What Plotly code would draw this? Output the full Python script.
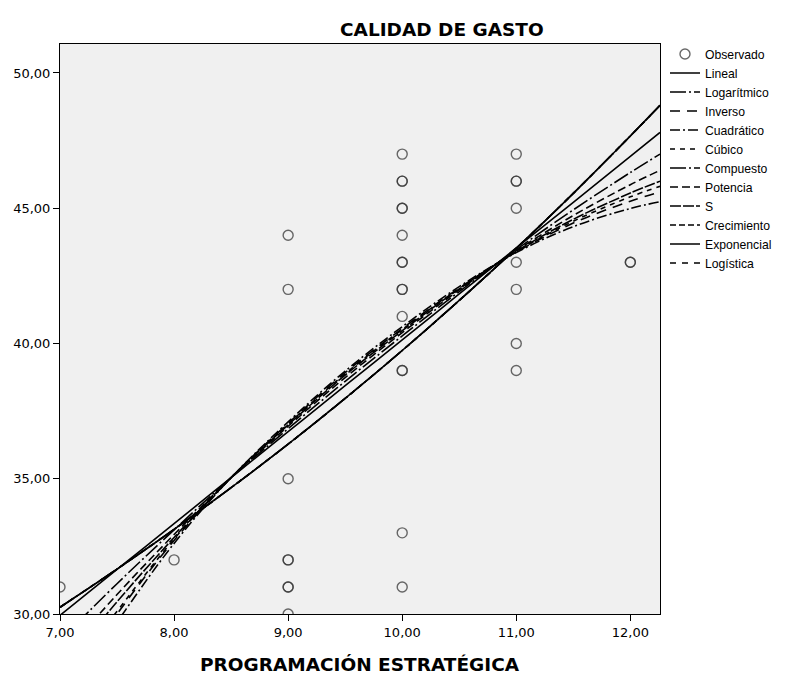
import plotly.graph_objects as go

# Observed points (duplicates listed twice where the circle looks bold)
obs_x = [7, 8,
         9, 9, 9, 9, 9, 9, 9, 9,
         10, 10, 10, 10, 10, 10, 10, 10, 10, 10, 10, 10, 10, 10, 10,
         11, 11, 11, 11, 11, 11, 11, 11,
         12, 12]
obs_y = [31, 32,
         44, 42, 35, 32, 32, 31, 31, 30,
         47, 46, 46, 45, 45, 44, 43, 43, 42, 42, 41, 39, 39, 33, 31,
         47, 46, 46, 45, 43, 42, 40, 39,
         43, 43]

# Fitted curves at these x positions
curve_x = [7.0, 7.5, 8.0, 8.5, 9.0, 9.5, 10.0, 10.5, 11.0, 11.5, 12.0, 12.26]
lineal      = [29.95, 31.65, 33.34, 35.04, 36.74, 38.44, 40.13, 41.83, 43.53, 45.22, 46.92, 47.80]
logaritmico = [29.03, 31.12, 33.11, 35.04, 36.85, 38.60, 40.28, 41.92, 43.47, 44.94, 46.32, 47.00]
inverso     = [27.00, 30.00, 32.72, 35.04, 37.05, 38.92, 40.55, 42.05, 43.38, 44.45, 45.26, 45.60]
cuadratico  = [26.60, 29.70, 32.61, 35.04, 37.10, 38.98, 40.62, 42.10, 43.36, 44.32, 44.99, 45.24]
cubico      = [27.30, 30.10, 32.77, 35.04, 37.02, 38.88, 40.52, 42.03, 43.39, 44.52, 45.42, 45.81]
compuesto   = [30.25, 31.66, 33.13, 34.67, 36.28, 37.97, 39.74, 41.59, 43.52, 45.55, 47.67, 48.80]
potencia    = [28.35, 30.72, 32.94, 35.04, 36.94, 38.74, 40.40, 41.98, 43.43, 44.73, 45.87, 46.40]
s_curva     = [27.89, 30.45, 32.83, 35.04, 36.99, 38.83, 40.47, 42.02, 43.41, 44.59, 45.56, 46.00]
crecimiento = [30.25, 31.66, 33.13, 34.67, 36.28, 37.97, 39.74, 41.59, 43.52, 45.55, 47.67, 48.80]
exponencial = [30.25, 31.66, 33.13, 34.67, 36.28, 37.97, 39.74, 41.59, 43.52, 45.55, 47.67, 48.80]
logistica   = [30.25, 31.66, 33.13, 34.67, 36.28, 37.97, 39.74, 41.59, 43.52, 45.55, 47.67, 48.80]

x_ticks = [7, 8, 9, 10, 11, 12]
x_tick_labels = ["7,00", "8,00", "9,00", "10,00", "11,00", "12,00"]
y_ticks = [30, 35, 40, 45, 50]
y_tick_labels = ["30,00", "35,00", "40,00", "45,00", "50,00"]

FONT = "DejaVu Sans, Liberation Sans, Arial, sans-serif"
LEGEND_FONT = "Liberation Sans, Arial, sans-serif"

fig = go.Figure()
fig.add_trace(go.Scatter(
    x=obs_x, y=obs_y, mode="markers", name="Observado",
    marker=dict(symbol="circle-open", size=10, color="rgba(55,55,55,0.75)",
                line=dict(width=1.4)),
))

curves = [
    ("Lineal", lineal, "solid"),
    ("Logarítmico", logaritmico, "16px,3px,2px,3px"),
    ("Inverso", inverso, "10px,7px"),
    ("Cuadrático", cuadratico, "10px,3px,2px,3px"),
    ("Cúbico", cubico, "5px,5px"),
    ("Compuesto", compuesto, "16px,3px,2px,3px"),
    ("Potencia", potencia, "8px,4px"),
    ("S", s_curva, "11px,2px"),
    ("Crecimiento", crecimiento, "6px,3px"),
    ("Exponencial", exponencial, "solid"),
    ("Logística", logistica, "6px,6px"),
]
for name, vals, dash in curves:
    fig.add_trace(go.Scatter(
        x=curve_x, y=vals, mode="lines", name=name,
        line=dict(color="black", width=1.6, dash=dash, shape="spline", smoothing=1.0),
    ))

# page has an 8px body margin, so the figure is sized and offset to compensate
fig.update_layout(
    width=779, height=667,
    margin=dict(l=52, r=127, t=36, b=61, autoexpand=False),
    paper_bgcolor="white", plot_bgcolor="#f0f0f0",
    font=dict(family=FONT, size=13, color="black"),
    showlegend=True,
    legend=dict(x=(657 - 52) / 600, y=1.008, xanchor="left", yanchor="top",
                bgcolor="rgba(0,0,0,0)", font=dict(size=12.2, family=LEGEND_FONT),
                itemwidth=30, tracegroupgap=0),
    annotations=[
        dict(text="<b>CALIDAD DE GASTO</b>", x=(442 - 60) / 600, y=1 + 14 / 570,
             xref="paper", yref="paper", xanchor="center", yanchor="middle",
             showarrow=False, font=dict(size=18.5, family=FONT)),
        dict(text="<b>PROGRAMACIÓN ESTRATÉGICA</b>", x=0.5, y=-50 / 570,
             xref="paper", yref="paper", xanchor="center", yanchor="middle",
             showarrow=False, font=dict(size=18.5, family=FONT)),
    ],
)

fig.update_xaxes(
    range=[7.0, 12.26], tickvals=x_ticks, ticktext=x_tick_labels,
    ticks="outside", ticklen=6, tickcolor="black", showgrid=False, zeroline=False,
    showline=True, linecolor="black", linewidth=1, mirror=True, automargin=False,
    tickfont=dict(size=13, family=FONT),
)
fig.update_yaxes(
    range=[30.0, 51.07], tickvals=y_ticks, ticktext=y_tick_labels,
    ticks="outside", ticklen=6, tickcolor="black", showgrid=False, zeroline=False,
    showline=True, linecolor="black", linewidth=1, mirror=True, automargin=False,
    tickfont=dict(size=13, family=FONT),
)

fig.write_html("out.html")
